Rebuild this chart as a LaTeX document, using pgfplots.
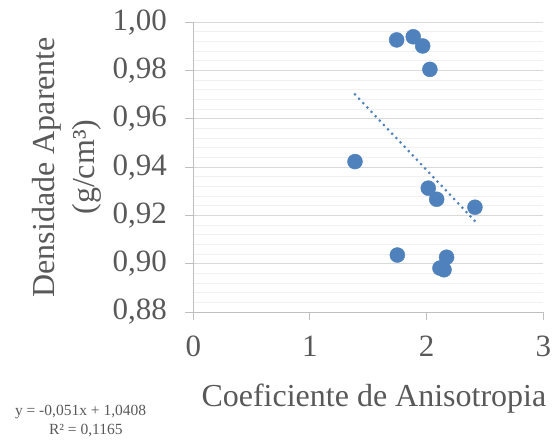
\documentclass[border=0pt]{standalone}
\usepackage{pgfplots}
\pgfplotsset{compat=1.18}
\usepackage{fontspec}
\setmainfont{Liberation Serif}
\definecolor{ptblue}{HTML}{4F81BD}
\definecolor{txt}{HTML}{595959}
\definecolor{majgrid}{HTML}{D9D9D9}
\definecolor{mingrid}{HTML}{F0F0F0}
\definecolor{axgray}{HTML}{BFBFBF}
\begin{document}
\begin{tikzpicture}
\begin{axis}[
  name=ax,
  scale only axis,
  width=350pt, height=289.7pt,
  xmin=0, xmax=3, ymin=0.88, ymax=1.00,
  xtick={0,1,2,3},
  ytick={0.88,0.90,0.92,0.94,0.96,0.98,1.00},
  minor y tick num=4,
  ymajorgrids, yminorgrids,
  major grid style={majgrid, line width=1pt},
  minor grid style={mingrid, line width=1pt},
  axis x line*=bottom, axis y line*=left,
  axis line style={axgray, line width=1pt},
  tick style={axgray, line width=1pt},
  major tick length=8pt, minor tick length=0pt,
  tick align=outside,
  /pgf/number format/assume math mode=true,
  y tick label style={/pgf/number format/fixed, /pgf/number format/fixed zerofill, /pgf/number format/precision=2, /pgf/number format/use comma},
  ticklabel style={font=\fontsize{31}{37}\selectfont, text=txt},
  xticklabel style={yshift=-12pt},
  yticklabel style={xshift=-15pt},
  xlabel={Coeficiente de Anisotropia},
  ylabel={Densidade Aparente\\(g/cm³)},
  label style={font=\fontsize{32}{40}\selectfont, text=txt},
  xlabel style={at={(axis description cs:0.516,-0.298)}, anchor=center},
  ylabel style={at={(axis description cs:-0.362,0.5)}, anchor=center, align=center},
  clip=false,
]
\addplot[only marks, mark=*, mark size=7.5pt, color=ptblue, mark options={fill=ptblue, draw=ptblue}] coordinates {
  (1.743,0.9927) (1.885,0.9940) (1.966,0.9902) (2.028,0.9805)
  (1.386,0.9423) (2.014,0.9313) (2.086,0.9267) (2.414,0.9234)
  (1.749,0.9036) (2.171,0.9027) (2.114,0.8982) (2.149,0.8975)
};
\addplot[ptblue, line width=3pt, line cap=round, dash pattern=on 0pt off 6pt] coordinates {
  (1.386,0.9701) (2.414,0.9177)
};
\node[font=\fontsize{15.5}{18}\selectfont, text=txt, anchor=center] at (axis description cs:-0.322,-0.345) {y = -0,051x + 1,0408};
\node[font=\fontsize{15.5}{18}\selectfont, text=txt, anchor=center] at (axis description cs:-0.307,-0.41) {R² = 0,1165};
\end{axis}
\path[use as bounding box] ([shift={(-193.3pt,-126pt)}]ax.south west) rectangle ([shift={(16.7pt,22.3pt)}]ax.north east);
\end{tikzpicture}
\end{document}
